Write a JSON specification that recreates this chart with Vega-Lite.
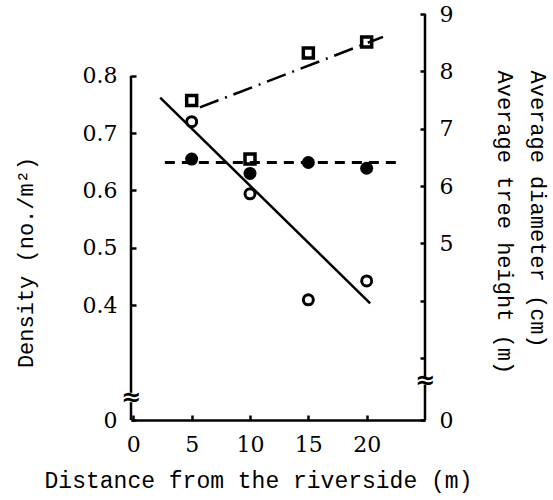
{
  "$schema": "https://vega.github.io/schema/vega-lite/v6.json",
  "autosize": "none",
  "padding": {"left": 131, "top": 14, "right": 128, "bottom": 80},
  "width": 294,
  "height": 406,
  "background": "white",
  "config": {
    "view": {"stroke": null},
    "font": "DejaVu Serif",
    "axis": {"labelFont": "DejaVu Serif", "titleFont": "Liberation Mono", "labelColor": "black", "titleColor": "black", "tickColor": "black", "domainColor": "black", "grid": false, "titleFontWeight": "normal", "labelFontSize": 22, "titleFontSize": 22, "tickWidth": 2.5, "domainWidth": 2.5}
  },
  "datasets": {
    "density": [
      {"distance": 5, "density": 0.72},
      {"distance": 10, "density": 0.594},
      {"distance": 15, "density": 0.409},
      {"distance": 20, "density": 0.442}
    ],
    "densityFit": [
      {"distance": 2.3, "density": 0.762},
      {"distance": 20.3, "density": 0.403}
    ],
    "diameter": [
      {"distance": 5, "value": 6.47},
      {"distance": 10, "value": 6.22},
      {"distance": 15, "value": 6.41},
      {"distance": 20, "value": 6.31}
    ],
    "diameterFit": [
      {"distance": 2.7, "value": 6.41},
      {"distance": 22.6, "value": 6.41}
    ],
    "height": [
      {"distance": 5, "value": 7.49},
      {"distance": 10, "value": 6.47},
      {"distance": 15, "value": 8.32},
      {"distance": 20, "value": 8.51}
    ],
    "heightFit": [
      {"distance": 5.7, "value": 7.37},
      {"distance": 21.4, "value": 8.6}
    ]
  },
  "layer": [
    {
      "layer": [
        {
          "data": {"name": "density"},
          "mark": {"type": "point", "shape": "circle", "filled": false, "size": 100, "strokeWidth": 3, "color": "black", "opacity": 1},
          "encoding": {
            "x": {"field": "distance", "type": "quantitative",
              "scale": {"domain": [-0.2, 25], "nice": false, "zero": false},
              "axis": {"values": [0, 5, 10, 15, 20], "tickSize": -5, "labelPadding": 19, "title": "Distance from the riverside (m)", "titleFontSize": 23, "titleX": 127, "titlePadding": 14}},
            "y": {"field": "density", "type": "quantitative",
              "scale": {"domain": [0, 0.4, 0.908], "range": [406, 291, 0], "nice": false, "zero": false},
              "axis": {"values": [0, 0.4, 0.5, 0.6, 0.7, 0.8], "labelExpr": "datum.value == 0 ? '0' : format(datum.value, '.1f')", "domain": false, "tickSize": -5, "labelPadding": 19, "title": "Density (no./m²)", "titleY": 248, "titlePadding": 45}}
          }
        },
        {
          "data": {"name": "densityFit"},
          "mark": {"type": "line", "color": "black", "strokeWidth": 2.5},
          "encoding": {
            "x": {"field": "distance", "type": "quantitative"},
            "y": {"field": "density", "type": "quantitative"}
          }
        },
        {
          "data": {"values": [{}]},
          "mark": {"type": "rule", "color": "black", "strokeWidth": 2.5},
          "encoding": {
            "x": {"datum": -0.2, "type": "quantitative"},
            "y": {"datum": 0.095, "type": "quantitative"},
            "y2": {"datum": 0.8}
          }
        },
        {
          "data": {"values": [{}]},
          "mark": {"type": "rule", "color": "black", "strokeWidth": 2.5},
          "encoding": {
            "x": {"datum": -0.2, "type": "quantitative"},
            "y": {"datum": 0, "type": "quantitative"},
            "y2": {"datum": 0.062}
          }
        },
        {
          "data": {"values": [{}]},
          "mark": {"type": "text", "text": "≈", "fontSize": 24, "color": "black", "font": "DejaVu Sans", "fontWeight": "bold"},
          "encoding": {
            "x": {"datum": -0.2, "type": "quantitative"},
            "y": {"datum": 0.078, "type": "quantitative"}
          }
        }
      ]
    },
    {
      "layer": [
        {
          "data": {"name": "height"},
          "mark": {"type": "point", "shape": "square", "filled": false, "size": 100, "strokeWidth": 3.5, "color": "black", "opacity": 1},
          "encoding": {
            "x": {"field": "distance", "type": "quantitative"},
            "y": {"field": "value", "type": "quantitative",
              "scale": {"domain": [0, 3, 9], "range": [406, 344, 0], "nice": false, "zero": false},
              "axis": {"orient": "right", "values": [0, 3, 4, 5, 6, 7, 8, 9], "labelExpr": "datum.value == 3 || datum.value == 4 ? '' : datum.label", "domain": false, "tickSize": -5, "labelPadding": 19, "title": ["Average diameter (cm)", "Average tree height (m)"], "titleAngle": 90, "titleAlign": "left", "titleBaseline": "bottom", "titleY": 56, "titlePadding": 40, "titleLineHeight": 33}}
          }
        },
        {
          "data": {"name": "heightFit"},
          "mark": {"type": "line", "color": "black", "strokeWidth": 2.5, "strokeDash": [20, 7, 2, 7]},
          "encoding": {
            "x": {"field": "distance", "type": "quantitative"},
            "y": {"field": "value", "type": "quantitative"}
          }
        },
        {
          "data": {"name": "diameter"},
          "mark": {"type": "point", "shape": "circle", "filled": true, "size": 169, "color": "black", "opacity": 1},
          "encoding": {
            "x": {"field": "distance", "type": "quantitative"},
            "y": {"field": "value", "type": "quantitative"}
          }
        },
        {
          "data": {"name": "diameterFit"},
          "mark": {"type": "line", "color": "black", "strokeWidth": 3, "strokeDash": [10, 7]},
          "encoding": {
            "x": {"field": "distance", "type": "quantitative"},
            "y": {"field": "value", "type": "quantitative"}
          }
        },
        {
          "data": {"values": [{}]},
          "mark": {"type": "rule", "color": "black", "strokeWidth": 2.5},
          "encoding": {
            "x": {"datum": 25, "type": "quantitative"},
            "y": {"datum": 2.05, "type": "quantitative"},
            "y2": {"datum": 9}
          }
        },
        {
          "data": {"values": [{}]},
          "mark": {"type": "rule", "color": "black", "strokeWidth": 2.5},
          "encoding": {
            "x": {"datum": 25, "type": "quantitative"},
            "y": {"datum": 0, "type": "quantitative"},
            "y2": {"datum": 1.72}
          }
        },
        {
          "data": {"values": [{}]},
          "mark": {"type": "text", "text": "≈", "fontSize": 24, "color": "black", "font": "DejaVu Sans", "fontWeight": "bold"},
          "encoding": {
            "x": {"datum": 25, "type": "quantitative"},
            "y": {"datum": 1.88, "type": "quantitative"}
          }
        }
      ]
    }
  ],
  "resolve": {"scale": {"y": "independent"}}
}
